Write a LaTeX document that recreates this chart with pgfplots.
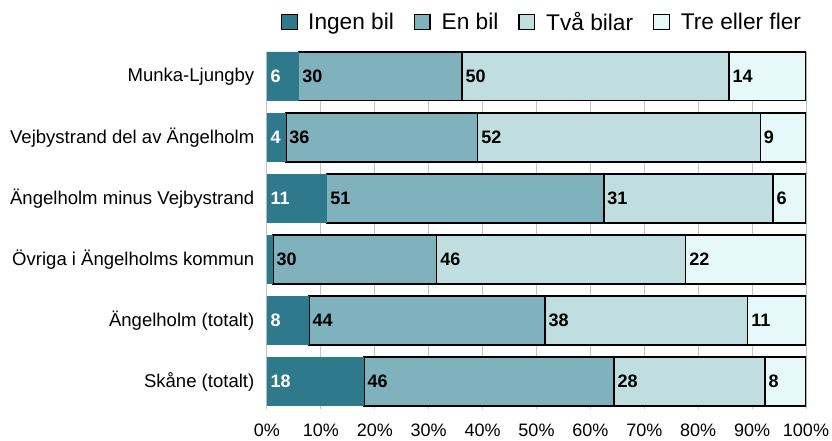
\documentclass[border=0pt]{standalone}
\usepackage{fontspec}
\setmainfont{Liberation Sans}
\usepackage{pgfplots}
\usepackage{pgfplotstable}
\pgfplotsset{compat=1.18}
\definecolor{c1}{RGB}{46,122,140}
\definecolor{c2}{RGB}{127,178,188}
\definecolor{c3}{RGB}{192,222,223}
\definecolor{c4}{RGB}{231,248,248}
\definecolor{gridc}{RGB}{195,195,195}
\pgfplotstableread{
y a    b    c    d    la lb lc ld
0 5.9  30.3 49.5 14.3 6  30 50 14
1 3.5  35.6 52.4 8.5  4  36 52 9
2 11.1 51.4 31.4 6.1  11 51 31 6
3 1.1  30.4 46.2 22.3 {} 30 46 22
4 7.8  43.8 37.6 10.8 8  44 38 11
5 18.0 46.4 28.0 7.6  18 46 28 8
}\data
\pgfplotsset{common/.style={
  at={(0,0)}, anchor=south west,
  scale only axis,
  width=404.25pt, height=267.75pt,
  xmin=0, xmax=100,
  ymin=-0.4, ymax=5.45,
  y dir=reverse}}
\begin{document}
\begin{tikzpicture}
\begin{axis}[
  common,
  name=ax,
  xbar stacked,
  bar width=0.8,
  ytick={0,...,5},
  yticklabels={Munka-Ljungby, Vejbystrand del av Ängelholm, Ängelholm minus Vejbystrand, Övriga i Ängelholms kommun, Ängelholm (totalt), Skåne (totalt)},
  xtick={0,10,...,100},
  xticklabel={\pgfmathprintnumber{\tick}\%},
  /pgf/number format/assume math mode=true,
  xticklabel style={yshift=-8pt, font=\fontsize{13.5}{16}\selectfont},
  yticklabel style={xshift=-6pt, font=\fontsize{13.9}{16}\selectfont},
  xmajorgrids, major grid style={gridc, line width=0.75pt},
  axis line style={draw=none},
  major tick length=0pt,
  legend columns=-1,
  legend image code/.code={\draw[#1] (0pt,-5.8pt) rectangle (11.6pt,5.8pt);},
  legend style={draw=none, fill=none, inner sep=0pt, outer sep=0pt,
    at={(axis description cs:1,1)}, anchor=east, xshift=-3.75pt, yshift=22.5pt,
    font=\fontsize{17}{20}\selectfont,
    nodes={inner sep=0pt},
    /tikz/every odd column/.append style={column sep=8.25pt},
    /tikz/every even column/.append style={column sep=15pt}},
]
\addplot[fill=c1, draw=none] table[x=a, y=y] {\data};
\addlegendentry{Ingen bil}
\addplot[fill=c2, draw=black, line width=1pt] table[x=b, y=y] {\data};
\addlegendentry{En bil}
\addplot[fill=c3, draw=black, line width=1pt] table[x=c, y=y] {\data};
\addlegendentry{Två bilar}
\addplot[fill=c4, draw=black, line width=1pt] table[x=d, y=y] {\data};
\addlegendentry{Tre eller fler}
\end{axis}
\begin{axis}[
  common,
  hide axis,
  point meta=explicit symbolic,
  nodes near coords,
  every node near coord/.append style={anchor=west, text=black, inner xsep=2.5pt, inner ysep=0pt,
     font=\bfseries\fontsize{13.5}{16}\selectfont},
]
\addplot[only marks, mark=none, every node near coord/.append style={text=white}]
  table[x expr=0, y=y, meta=la] {\data};
\addplot[only marks, mark=none] table[x expr=\thisrow{a}, y=y, meta=lb] {\data};
\addplot[only marks, mark=none] table[x expr=\thisrow{a}+\thisrow{b}, y=y, meta=lc] {\data};
\addplot[only marks, mark=none] table[x expr=\thisrow{a}+\thisrow{b}+\thisrow{c}, y=y, meta=ld] {\data};
\end{axis}
\pgfresetboundingbox
\useasboundingbox ([xshift=-200.25pt,yshift=-24pt]ax.south west) rectangle ([xshift=423.75pt,yshift=306.75pt]ax.south west);
\end{tikzpicture}
\end{document}
